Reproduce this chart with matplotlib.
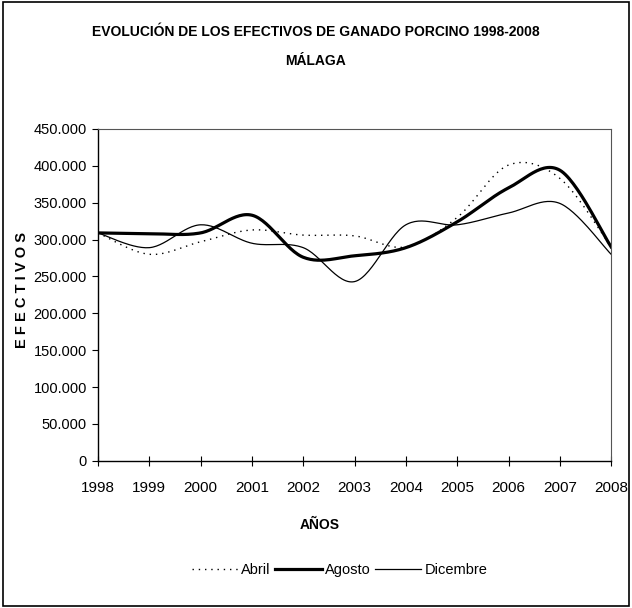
import numpy as np
import matplotlib
matplotlib.use("Agg")
import matplotlib.pyplot as plt
from matplotlib.lines import Line2D
from matplotlib.patches import Rectangle
from matplotlib.ticker import FuncFormatter

plt.rcParams['font.family'] = ['Liberation Sans', 'DejaVu Sans']

#%% DATA
years = [1998, 1999, 2000, 2001, 2002, 2003, 2004, 2005, 2006, 2007, 2008]
abril = [309000, 280000, 297000, 313000, 306000, 305000, 290000, 330000, 401000, 383000, 290000]
agosto = [309000, 308000, 309000, 333000, 276000, 278000, 289000, 324000, 370000, 394000, 290000]
dicembre = [309000, 289000, 320000, 295000, 289000, 243000, 320000, 320000, 336000, 349000, 280000]
series_names = ['Abril', 'Agosto', 'Dicembre']

#%% SMOOTH LINE (Excel style bezier)
def smooth(x, y, n=30):
    x = np.asarray(x, float)
    y = np.asarray(y, float)
    px = np.concatenate([[x[0]], x, [x[-1]]])
    py = np.concatenate([[y[0]], y, [y[-1]]])
    t = np.linspace(0, 1, n)[:, None]
    xs, ys = [], []
    for i in range(1, len(px) - 2):
        p0 = np.array([px[i], py[i]])
        p3 = np.array([px[i + 1], py[i + 1]])
        c1 = p0 + (p3 - np.array([px[i - 1], py[i - 1]])) / 6
        c2 = p3 - (np.array([px[i + 2], py[i + 2]]) - p0) / 6
        b = (1 - t) ** 3 * p0 + 3 * (1 - t) ** 2 * t * c1 + 3 * (1 - t) * t ** 2 * c2 + t ** 3 * p3
        xs.append(b[:, 0])
        ys.append(b[:, 1])
    return np.concatenate(xs), np.concatenate(ys)

#%% PLOT
fig = plt.figure(figsize=(6.32, 6.08), dpi=100)
ax = fig.add_axes([0.155, 0.242, 0.812, 0.546])

styles = [dict(color='black', lw=1.0, ls=(0, (1, 3.5))),
          dict(color='black', lw=2.3, ls='-'),
          dict(color='black', lw=0.9, ls='-')]

for vals, st in zip([abril, agosto, dicembre], styles):
    sx, sy = smooth(years, vals)
    ax.plot(sx, sy, **st)

ax.set_xlim(1998, 2008)
ax.set_ylim(0, 450000)
ax.set_xticks(years)
ax.set_yticks(np.arange(0, 450001, 50000))
ax.yaxis.set_major_formatter(FuncFormatter(lambda v, p: '{:,.0f}'.format(v).replace(',', '.')))
ax.tick_params(axis='x', direction='inout', length=7, width=0.8, labelsize=11, pad=11)
ax.tick_params(axis='y', direction='out', length=4, width=0.8, labelsize=10.5, pad=4)

for s in ['left', 'bottom']:
    ax.spines[s].set_linewidth(1.0)
for s in ['top', 'right']:
    ax.spines[s].set_color('#555555')
    ax.spines[s].set_linewidth(0.8)

fig.text(0.5, 0.947, 'EVOLUCIÓN DE LOS EFECTIVOS DE GANADO PORCINO 1998-2008',
         ha='center', va='center', fontsize=10, fontweight='bold')
fig.text(0.5, 0.900, 'MÁLAGA', ha='center', va='center', fontsize=10, fontweight='bold')
fig.text(0.035, 0.523, 'E F E C T I V O S', ha='center', va='center', rotation=90,
         fontsize=10.5, fontweight='bold')
fig.text(0.506, 0.137, 'AÑOS', ha='center', va='center', fontsize=10, fontweight='bold')

handles = [Line2D([], [], **st) for st in styles]
fig.legend(handles, series_names, loc='center', bbox_to_anchor=(0.537, 0.062), ncol=3,
           frameon=False, fontsize=10.5, handlelength=3.2, handletextpad=0.2, columnspacing=0.3)

fig.patches.append(Rectangle((0.004, 0.004), 0.992, 0.992, transform=fig.transFigure,
                             fill=False, edgecolor='black', lw=1.2))

fig.savefig('out.png', dpi=100)
